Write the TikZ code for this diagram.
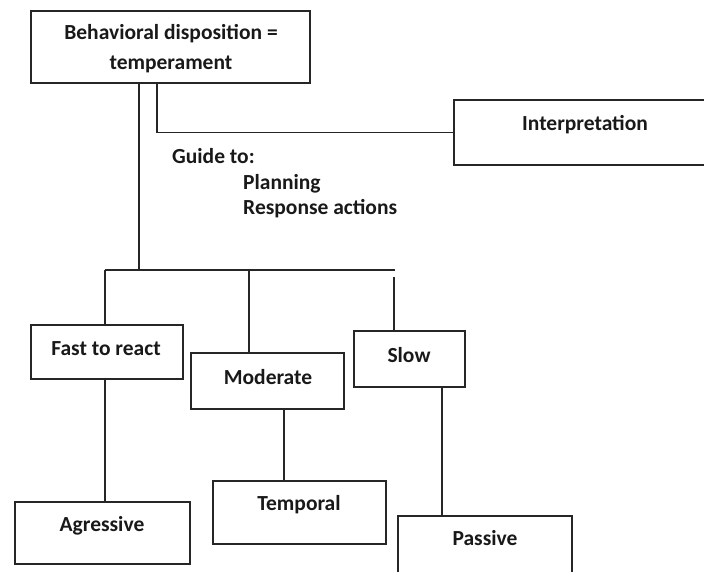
\documentclass[tikz,border=0pt]{standalone}
\usepackage{fontspec}
\setmainfont{Carlito}
\begin{document}
\begin{tikzpicture}[x=1pt,y=-1pt,
  box/.style={draw=black!85,line width=1.3pt,rectangle,inner sep=0pt},
  lbl/.style={font=\bfseries\fontsize{21.5}{24}\selectfont,inner sep=0pt,text=black!90},
  conn/.style={draw=black!85,line width=1.3pt}]
\useasboundingbox (0,0) rectangle (704,572);
\clip (0,0) rectangle (704,572);
% boxes
\node[box,minimum width=279,minimum height=72] (top) at (170.5,47) {};
\node[box,minimum width=266,minimum height=65] (interp) at (587,132.5) {};
\node[box,minimum width=152,minimum height=54] (fast) at (107,352) {};
\node[box,minimum width=153,minimum height=56] (mod) at (267.5,381) {};
\node[box,minimum width=111,minimum height=56] (slow) at (409.5,359) {};
\node[box,minimum width=175,minimum height=62] (agr) at (102.5,533) {};
\node[box,minimum width=173,minimum height=63] (temp) at (299.5,512.5) {};
\node[box,minimum width=174,minimum height=74] (pass) at (485,553) {};
% texts
\node[lbl] (t1) at (171,34) {Behavioral disposition =};
\node[lbl] (t2) at (171,64) {temperament};
\node[lbl] (tint) at (585,125) {Interpretation};
\node[lbl,anchor=west] (g1) at (172,156) {Guide to:};
\node[lbl,anchor=west] (g2) at (243,184) {Planning};
\node[lbl,anchor=west] (g3) at (243,209) {Response actions};
\node[lbl] (tf) at (106,349) {Fast to react};
\node[lbl] (tm) at (268,377) {Moderate};
\node[lbl] (ts) at (409,355) {Slow};
\node[lbl] (ta) at (102,526) {Agressive};
\node[lbl] (tt) at (299,505) {Temporal};
\node[lbl] (tp) at (485,538) {Passive};
% connectors
\coordinate (bj) at (139,270);
\coordinate (bl) at (105,270);
\coordinate (bm) at (249,270);
\coordinate (br) at (395,270);
\coordinate (sj) at (394,277);
\coordinate (ij) at (157,132.5);
\draw[conn] (139,0 |- top.south) -- (bj);
\draw[conn] (bl) -- (br);
\draw[conn] (bl) -- (105,0 |- fast.north);
\draw[conn] (bm) -- (249,0 |- mod.north);
\draw[conn] (sj) -- (394,0 |- slow.north);
\draw[conn] (157,0 |- top.south) -- (ij) -- (interp.west);
\draw[conn] (105,0 |- fast.south) -- (105,0 |- agr.north);
\draw[conn] (284,0 |- mod.south) -- (284,0 |- temp.north);
\draw[conn] (442,0 |- slow.south) -- (442,0 |- pass.north);
\end{tikzpicture}
\end{document}
